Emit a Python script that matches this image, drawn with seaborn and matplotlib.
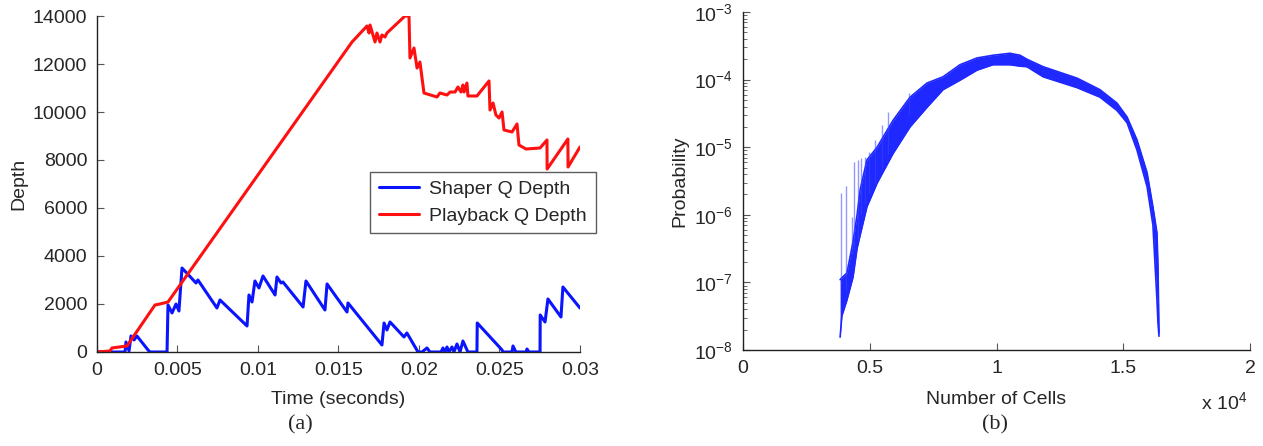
import matplotlib
matplotlib.use("Agg")
import matplotlib.pyplot as plt
import pandas as pd
import seaborn as sns

# (a) queue depths over time
shaper_t = [0, 0.00174, 0.00180, 0.00199, 0.00211, 0.00230, 0.00248, 0.00317, 0.00329,
            0.00435, 0.00441, 0.00466, 0.00491, 0.00509, 0.00528, 0.00615, 0.00627,
            0.00745, 0.00764, 0.00932, 0.00944, 0.00963, 0.00981, 0.01006, 0.01031,
            0.01106, 0.01118, 0.01143, 0.01155, 0.01280, 0.01298, 0.01416, 0.01429,
            0.01553, 0.01559, 0.01770, 0.01783, 0.01801, 0.01820, 0.01907, 0.01925,
            0.01994, 0.02019, 0.02050, 0.02068, 0.02137, 0.02149, 0.02162, 0.02174,
            0.02186, 0.02205, 0.02217, 0.02236, 0.02255, 0.02273, 0.02304, 0.02360,
            0.02362, 0.02516, 0.02522, 0.02578, 0.02584, 0.02602, 0.02665, 0.02671,
            0.02683, 0.02752, 0.02753, 0.02783, 0.02801, 0.02882, 0.02894, 0.03]
shaper_d = [0, 0, 417, 42, 667, 500, 667, 83, 0,
            0, 1958, 1625, 2000, 1708, 3500, 2875, 3000,
            1833, 2167, 1083, 2375, 2083, 2958, 2667, 3167,
            2375, 3125, 2875, 2917, 1875, 2958, 1750, 2833,
            1667, 2042, 292, 1208, 917, 1250, 625, 792,
            0, 0, 167, 0, 0, 167, 0, 208,
            0, 208, 0, 333, 0, 458, 0, 0,
            1208, 83, 0, 0, 250, 0, 0, 125,
            0, 0, 1542, 1250, 2208, 1458, 2708, 1833]

playback_t = [0, 0.00081, 0.00093, 0.00186, 0.00360, 0.00391, 0.00441, 0.01584,
              0.01677, 0.01690, 0.01696, 0.01727, 0.01739, 0.01758, 0.01770, 0.01789,
              0.01801, 0.01913, 0.01938, 0.01944, 0.01969, 0.01988, 0.02006, 0.02031,
              0.02112, 0.02130, 0.02174, 0.02193, 0.02224, 0.02242, 0.02261, 0.02273,
              0.02280, 0.02298, 0.02304, 0.02360, 0.02435, 0.02441, 0.02460, 0.02478,
              0.02497, 0.02516, 0.02528, 0.02578, 0.02609, 0.02621, 0.02665, 0.02752,
              0.02795, 0.02796, 0.02925, 0.02926, 0.03]
playback_d = [0, 42, 167, 250, 1958, 2000, 2083, 12917,
              13583, 13292, 13625, 12917, 13292, 12917, 13208, 13125,
              13292, 14000, 14000, 12250, 12667, 11833, 12083, 10792,
              10625, 10792, 10708, 10833, 10833, 11042, 10833, 11125,
              10833, 11208, 10667, 10667, 11292, 10083, 10375, 9875,
              9750, 10000, 9250, 9167, 9500, 8625, 8458, 8500,
              8833, 7625, 8875, 7708, 8542]

# (b) probability vs number of cells: band envelope and sparse spikes
cells_x = [3830, 3900, 4100, 4340, 4500, 4620, 4890, 5290, 5920, 6590, 7260, 7890,
           8560, 9230, 9860, 10530, 10930, 11200, 11840, 13180, 14080, 14750, 15150,
           15540, 15940, 16170, 16330, 16370, 16410]
prob_hi = [1.1e-7, 1.17e-7, 1.38e-7, 4.0e-7, 1.0e-6, 2.34e-6, 6.5e-6, 1.0e-5, 2.5e-5,
           5.5e-5, 8.9e-5, 1.1e-4, 1.66e-4, 2.09e-4, 2.29e-4, 2.45e-4, 2.29e-4, 2.0e-4,
           1.55e-4, 1.05e-4, 7.1e-5, 4.5e-5, 2.8e-5, 1.29e-5, 4.2e-6, 1.32e-6, 5.4e-7,
           1.7e-7, 1.8e-8]
prob_lo = [1.55e-8, 3.2e-8, 5.5e-8, 1.2e-7, 3.2e-7, 5.0e-7, 1.32e-6, 2.95e-6, 8.1e-6,
           2.0e-5, 3.9e-5, 7.1e-5, 9.8e-5, 1.38e-4, 1.66e-4, 1.66e-4, 1.58e-4, 1.55e-4,
           1.1e-4, 7.6e-5, 5.5e-5, 3.5e-5, 2.3e-5, 9.1e-6, 2.6e-6, 7.1e-7, 5.5e-8,
           2.5e-8, 1.6e-8]
spike_x = [3866, 4063, 4300, 4379, 4537, 4655, 4813, 4971, 5207, 5484, 5720, 6549]
spike_hi = [2.1e-6, 2.7e-6, 9.3e-7, 6.0e-6, 6.4e-6, 6.9e-6, 7.2e-6, 8.5e-6, 1.29e-5,
            2.1e-5, 3.3e-5, 6.3e-5]
spike_lo = [9.1e-8, 7.7e-8, 2.6e-7, 3.0e-7, 4.3e-7, 1.0e-6, 1.5e-6, 2.0e-6, 3.0e-6,
            5.0e-6, 8.0e-6, 3.0e-5]

sns.set_style("white")
plt.rcParams["font.family"] = ["Liberation Sans", "DejaVu Sans"]
plt.rcParams["mathtext.default"] = "regular"

fig = plt.figure(figsize=(12.63, 4.46), dpi=100)
ax1 = fig.add_axes([0.0768, 0.2108, 0.3824, 0.7533])
ax2 = fig.add_axes([0.5883, 0.2152, 0.4014, 0.7579])

df = pd.concat([
    pd.DataFrame({"t": shaper_t, "d": shaper_d, "s": "Shaper Q Depth"}),
    pd.DataFrame({"t": playback_t, "d": playback_d, "s": "Playback Q Depth"}),
])
pal = {"Shaper Q Depth": "#0a14ff", "Playback Q Depth": "#ff1010"}
sns.lineplot(data=df, x="t", y="d", hue="s", palette=pal, sort=False,
             estimator=None, lw=2.2, ax=ax1)
ax1.set_xlim(0, 0.03)
ax1.set_ylim(0, 14000)
ax1.set_xticks([0, 0.005, 0.01, 0.015, 0.02, 0.025, 0.03])
ax1.set_xticklabels(["0", "0.005", "0.01", "0.015", "0.02", "0.025", "0.03"])
ax1.set_yticks(range(0, 14001, 2000))
ax1.set_xlabel("Time (seconds)", fontsize=14, labelpad=9)
ax1.set_ylabel("Depth", fontsize=14, labelpad=4)
leg = ax1.legend(loc="upper left", bbox_to_anchor=(0.565, 0.536), borderaxespad=0,
                 fontsize=14, frameon=True, fancybox=False, handlelength=2.1,
                 borderpad=0.45, labelspacing=0.45, handletextpad=0.5)
leg.get_frame().set_edgecolor("#333333")
leg.get_frame().set_linewidth(1.0)

# right panel
ax2.set_yscale("log")
ax2.fill_between(cells_x, prob_lo, prob_hi, color="#1e28ff", lw=0)
sns.lineplot(x=cells_x, y=prob_hi, color="#1e28ff", lw=1.2, ax=ax2)
sns.lineplot(x=cells_x, y=prob_lo, color="#1e28ff", lw=1.2, ax=ax2)
ax2.vlines(spike_x, spike_lo, spike_hi, color="#3a44ff", alpha=0.55, lw=1)
ax2.set_xlim(0, 20000)
ax2.set_ylim(1e-8, 1e-3)
ax2.set_xticks([0, 5000, 10000, 15000, 20000])
ax2.set_xticklabels(["0", "0.5", "1", "1.5", "2"])
ax2.set_xlabel("Number of Cells", fontsize=14, labelpad=10)
ax2.set_ylabel("Probability", fontsize=14, labelpad=4)
ax2.text(0.995, -0.155, r"x 10$^{4}$", transform=ax2.transAxes, ha="right",
         va="center", fontsize=14)

for ax in (ax1, ax2):
    sns.despine(ax=ax)
    for sp in ("left", "bottom"):
        ax.spines[sp].set_color("#222222")
        ax.spines[sp].set_linewidth(1.0)
    ax.tick_params(axis="both", which="major", direction="in", length=5,
                   width=0.8, labelsize=14, color="#555555", pad=7,
                   left=True, bottom=True)
ax2.tick_params(axis="y", which="minor", direction="in", length=3, width=0.6,
                color="#555555", left=True)

fig.text(0.2375, 0.047, "(a)", ha="center", va="center", fontsize=16,
         family="Liberation Serif")
fig.text(0.788, 0.047, "(b)", ha="center", va="center", fontsize=16,
         family="Liberation Serif")

fig.savefig("out.png", dpi=100)
